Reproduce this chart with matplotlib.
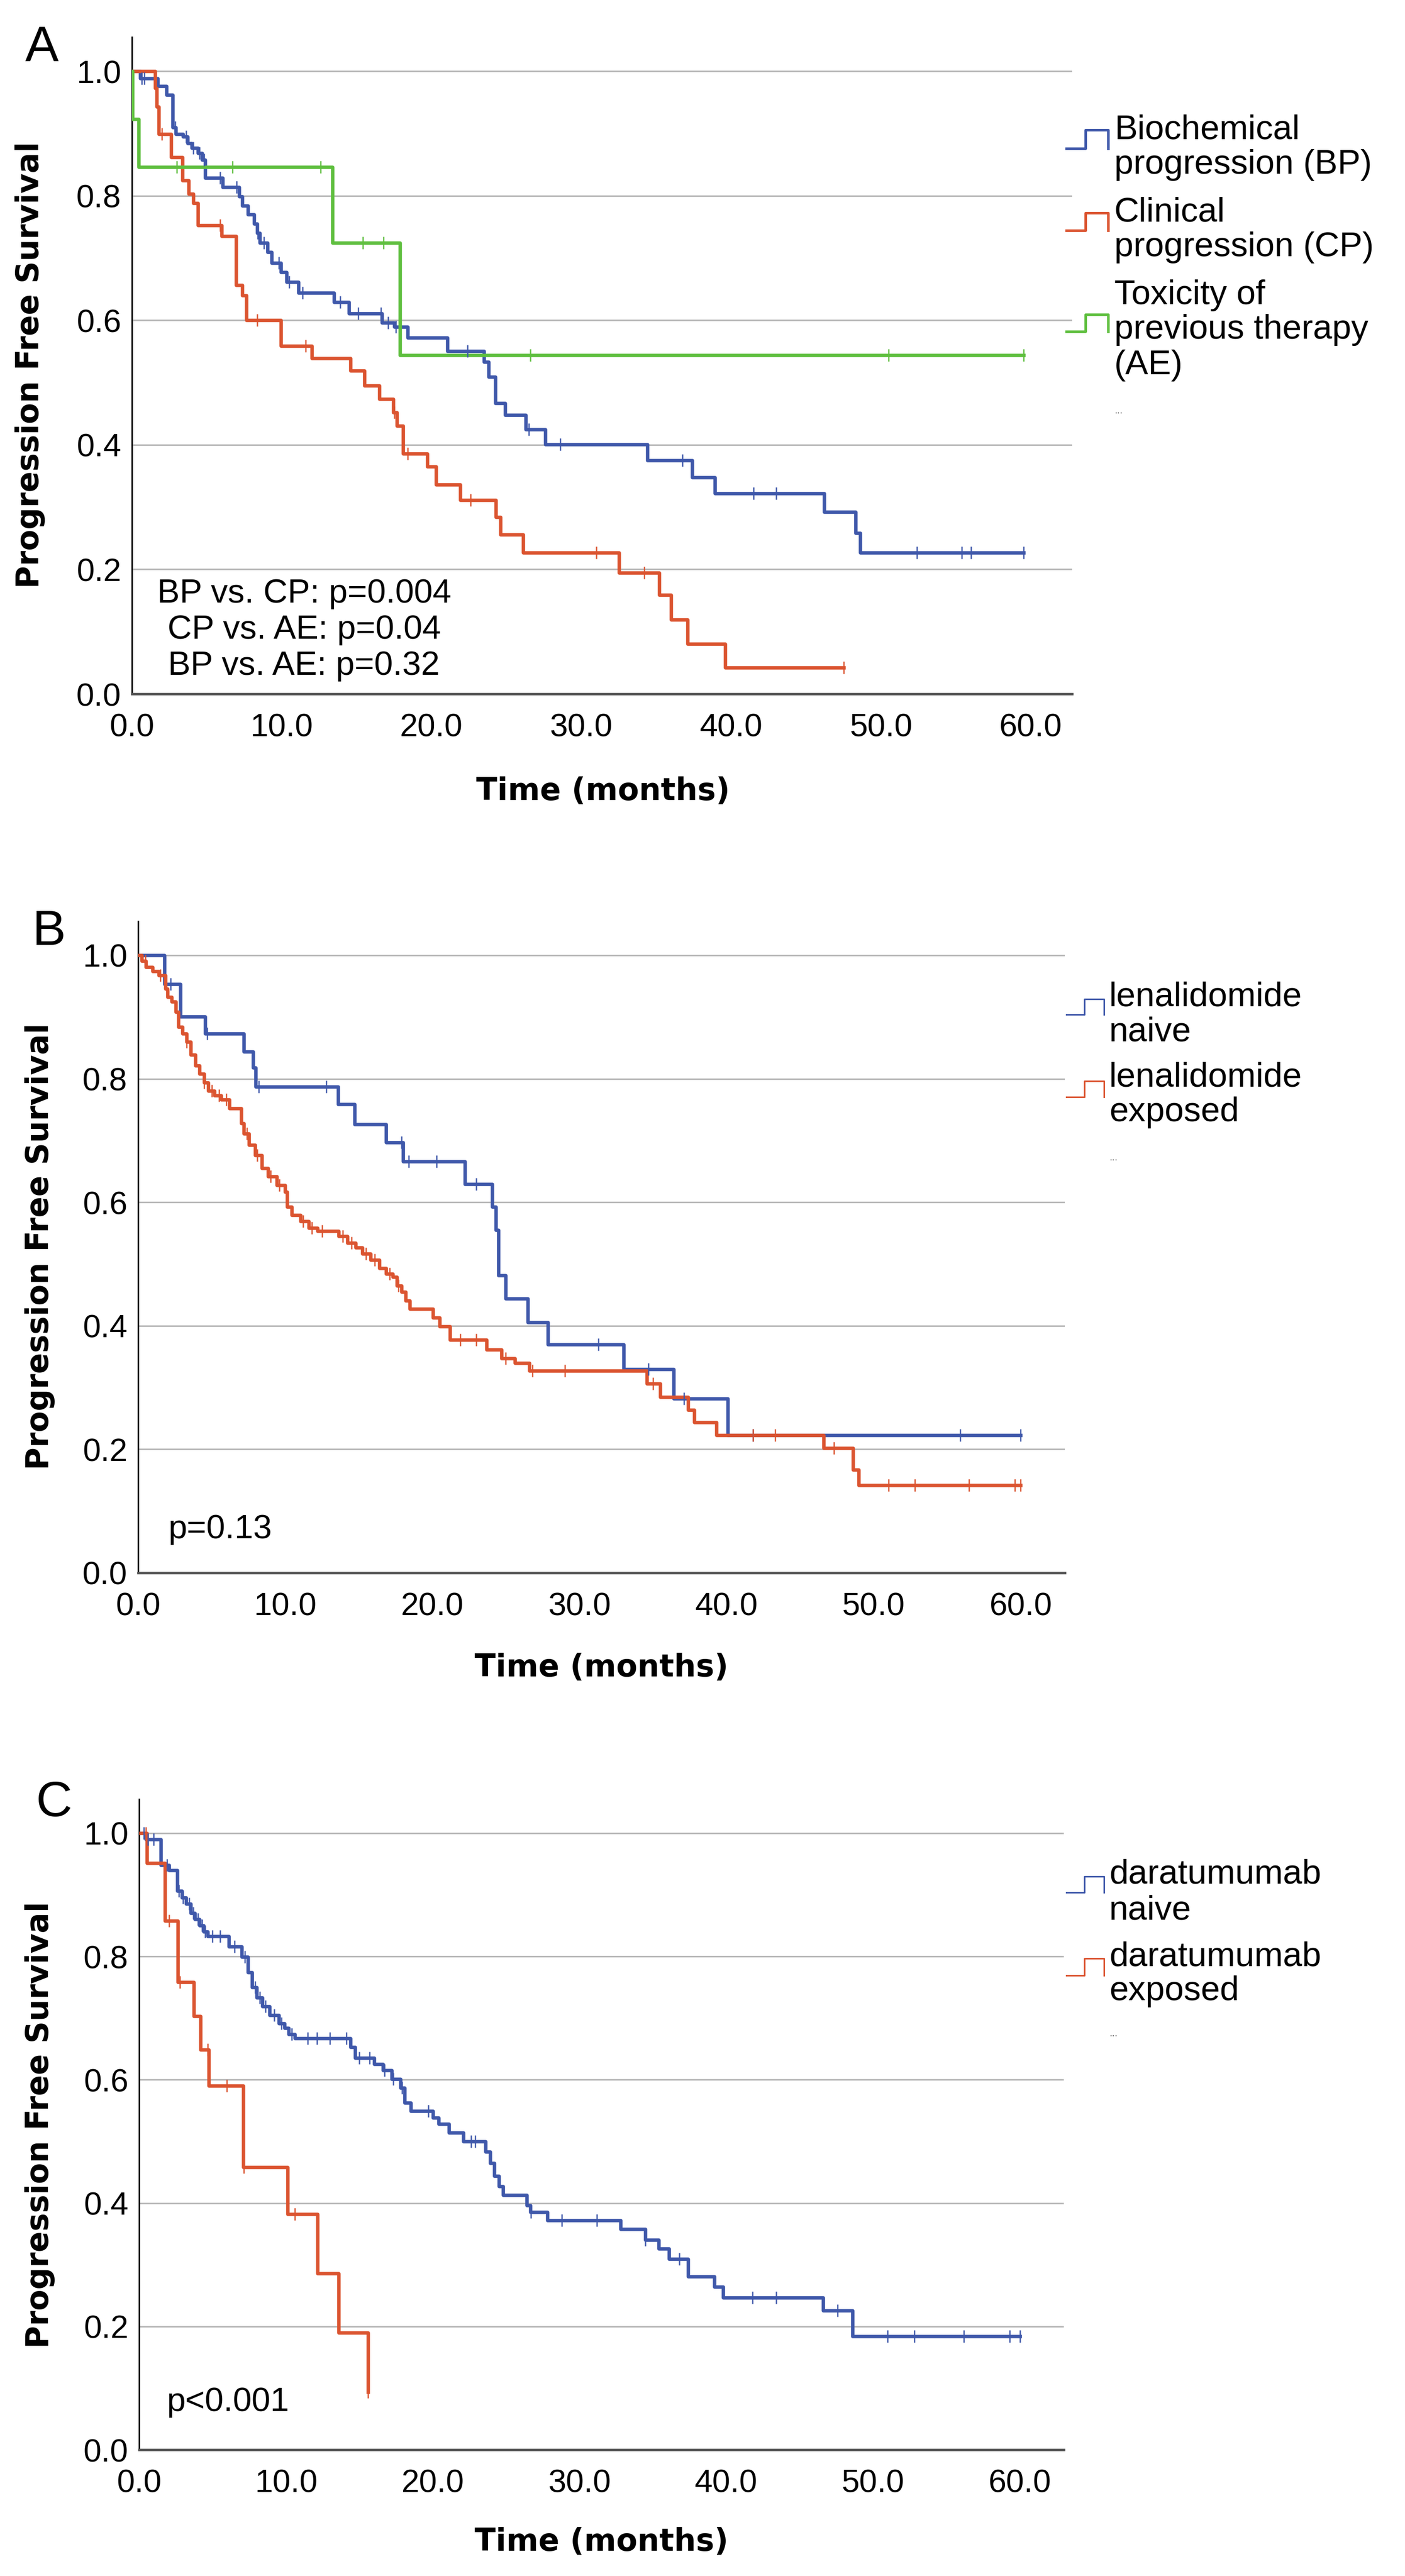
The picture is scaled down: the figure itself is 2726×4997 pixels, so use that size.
import numpy as np
import matplotlib
matplotlib.use('Agg')
import matplotlib.pyplot as plt
from matplotlib.lines import Line2D

plt.rcParams['font.family'] = ['Liberation Sans', 'DejaVu Sans']

W, H = 2726, 4997
DPI = 100

BLUE = '#3f58aa'
RED = '#db5430'
GREEN = '#5fbf3f'
GRID = '#b8b8b8'

# ---- panel A: progression type ----
a_bp_t = [0, 0.54, 1.73, 2.32, 2.72, 2.91, 3.41, 3.70, 4.00, 4.39, 4.69, 4.89,
          6.07, 7.16, 7.36, 7.75, 8.15, 8.35, 8.54, 9.04, 9.33, 9.93, 10.32,
          11.11, 13.48, 14.47, 16.70, 17.50, 18.40, 21.06, 23.50, 23.80, 24.25,
          24.90, 26.30, 27.60, 34.40, 37.40, 38.90, 46.20, 48.30, 48.60]
a_bp_s = [1.0, 0.989, 0.976, 0.962, 0.910, 0.899, 0.895, 0.884, 0.877, 0.869,
          0.858, 0.829, 0.814, 0.799, 0.784, 0.770, 0.755, 0.740, 0.725, 0.710,
          0.692, 0.677, 0.662, 0.644, 0.629, 0.611, 0.596, 0.590, 0.572, 0.551,
          0.533, 0.509, 0.467, 0.448, 0.425, 0.401, 0.375, 0.348, 0.322, 0.292,
          0.258, 0.227]
a_bp_end = 59.5
a_bp_cens = [0.64, 0.84, 2.9, 3.6, 4.1, 4.5, 4.8, 5.9, 7.0, 8.4, 8.8, 9.8,
             10.5, 11.4, 13.9, 15.1, 16.6, 17.1, 17.6, 22.4, 26.5, 28.6, 36.75,
             41.5, 43.0, 52.4, 55.4, 56.0, 59.5]

a_cp_t = [0, 1.55, 1.65, 1.80, 2.62, 3.37, 3.80, 4.10, 4.40, 5.98, 6.96, 7.36,
          7.65, 9.93, 12.00, 14.57, 15.50, 16.50, 17.45, 17.70, 18.10, 19.70,
          20.30, 21.90, 24.30, 24.60, 26.10, 32.50, 35.20, 36.00, 37.10, 39.60]
a_cp_s = [1.0, 0.973, 0.943, 0.899, 0.862, 0.825, 0.803, 0.788, 0.753, 0.735,
          0.657, 0.640, 0.600, 0.559, 0.539, 0.519, 0.495, 0.474, 0.452, 0.431,
          0.386, 0.365, 0.336, 0.311, 0.284, 0.256, 0.227, 0.195, 0.159, 0.119,
          0.080, 0.042]
a_cp_end = 47.5
a_cp_cens = [2.0, 5.9, 8.35, 11.6, 17.5, 18.4, 22.6, 31.0, 34.2, 47.5]

a_ae_t = [0, 0.05, 0.44, 13.38, 17.89]
a_ae_s = [1.0, 0.923, 0.846, 0.725, 0.544]
a_ae_end = 59.5
a_ae_cens = [3.0, 6.7, 12.6, 15.4, 16.8, 26.6, 50.5, 59.5]

a_labels = [['Biochemical', 'progression (BP)'],
            ['Clinical', 'progression (CP)'],
            ['Toxicity of', 'previous therapy', '(AE)']]
a_pvals = ['BP vs. CP: p=0.004', 'CP vs. AE: p=0.04', 'BP vs. AE: p=0.32']

# ---- panel B: lenalidomide ----
b_naive_t = [0, 1.79, 2.86, 4.55, 7.17, 7.80, 8.00, 13.60, 14.70, 16.85, 18.00,
             22.20, 24.06, 24.30, 24.50, 25.00, 26.50, 27.85, 33.00, 36.40, 40.10]
b_naive_s = [1.0, 0.953, 0.901, 0.873, 0.844, 0.818, 0.787, 0.759, 0.726, 0.697,
             0.666, 0.629, 0.593, 0.555, 0.482, 0.444, 0.406, 0.370, 0.330,
             0.282, 0.223]
b_naive_end = 60.0
b_naive_cens = [2.2, 4.7, 8.2, 12.8, 17.9, 18.4, 20.3, 23.0, 31.3, 34.7, 37.1,
                41.8, 55.9, 60.0]

b_exp_t = [0, 0.24, 0.53, 0.97, 1.41, 1.84, 1.99, 2.28, 2.57, 2.72,
           3.01, 3.30, 3.59, 3.88, 4.17, 4.47, 4.76, 5.19, 5.63, 6.21,
           7.00, 7.17, 7.52, 7.96, 8.40, 8.83, 9.42, 10.00, 10.14, 10.44,
           11.02, 11.60, 12.20, 13.64, 14.22, 14.80, 15.24, 15.80, 16.40, 16.85,
           17.30, 17.60, 17.90, 18.20, 18.45, 20.05, 20.50, 21.20, 23.70, 24.70,
           25.60, 26.60, 34.60, 35.50, 37.40, 37.80, 39.30, 46.60, 48.60, 49.00]
b_exp_s = [1.0, 0.991, 0.981, 0.974, 0.967, 0.946, 0.932, 0.925, 0.908, 0.884,
           0.873, 0.860, 0.839, 0.821, 0.808, 0.794, 0.780, 0.773, 0.766, 0.752,
           0.728, 0.711, 0.693, 0.676, 0.655, 0.642, 0.628, 0.617, 0.593, 0.579,
           0.569, 0.558, 0.553, 0.545, 0.534, 0.527, 0.517, 0.507, 0.493, 0.484,
           0.479, 0.465, 0.455, 0.441, 0.427, 0.413, 0.399, 0.377, 0.361, 0.347,
           0.340, 0.327, 0.306, 0.285, 0.264, 0.244, 0.223, 0.202, 0.167, 0.142]
b_exp_end = 60.0
b_exp_cens = [0.5, 1.5, 3.3, 4.5, 5.0, 5.5, 6.0, 7.4, 8.1, 9.0, 9.6, 11.2, 11.8,
              12.5, 13.9, 14.5, 15.5, 16.1, 17.1, 17.7, 21.9, 23.0, 25.0, 26.8,
              29.0, 35.0, 41.8, 43.3, 47.3, 51.0, 52.8, 56.5, 59.6, 60.0]

b_labels = [['lenalidomide', 'naive'], ['lenalidomide', 'exposed']]
b_pval = 'p=0.13'

# ---- panel C: daratumumab ----
c_naive_t = [0, 0.44, 1.46, 2.04, 2.60, 2.90, 3.20, 3.50, 3.80, 4.10,
             4.40, 4.66, 6.10, 7.00, 7.40, 7.70, 8.00, 8.40, 8.90, 9.50,
             9.90, 10.20, 10.60, 14.40, 14.70, 16.00, 16.60, 17.20, 17.80, 18.10,
             18.50, 20.00, 20.40, 21.10, 22.10, 23.60, 23.90, 24.20, 24.50, 24.80,
             26.40, 26.65, 27.80, 32.80, 34.50, 35.40, 36.10, 37.40, 39.20, 39.80,
             46.60, 48.60]
c_naive_s = [1.0, 0.990, 0.948, 0.940, 0.906, 0.895, 0.885, 0.870, 0.860, 0.850,
             0.840, 0.833, 0.816, 0.799, 0.774, 0.750, 0.733, 0.719, 0.705, 0.691,
             0.684, 0.674, 0.667, 0.653, 0.635, 0.625, 0.615, 0.601, 0.587, 0.563,
             0.549, 0.538, 0.528, 0.514, 0.500, 0.483, 0.465, 0.444, 0.427, 0.413,
             0.396, 0.385, 0.372, 0.358, 0.340, 0.326, 0.309, 0.281, 0.264, 0.247,
             0.226, 0.184]
c_naive_end = 60.0
c_naive_cens = [0.3, 0.6, 1.0, 1.9, 2.7, 3.0, 3.4, 3.7, 4.0, 4.3, 4.5, 5.0, 5.5,
                6.5, 7.2, 7.9, 8.2, 8.6, 9.2, 9.7, 10.4, 11.5, 12.1, 13.0, 14.1,
                15.0, 15.7, 16.7, 17.3, 17.9, 19.7, 22.6, 22.9, 26.7, 28.8, 31.2,
                34.5, 36.8, 41.8, 43.4, 47.6, 51.0, 52.8, 56.2, 59.3, 60.0]

c_exp_t = [0, 0.52, 1.75, 2.62, 3.73, 4.17, 4.75, 7.08, 10.10, 12.15, 13.60, 15.60]
c_exp_s = [1.0, 0.951, 0.858, 0.758, 0.703, 0.649, 0.590, 0.458, 0.382, 0.286,
           0.190, 0.094]
c_exp_end = 15.6
c_exp_cens = [0.44, 2.04, 2.77, 4.66, 5.97, 7.14, 10.6, 15.6]

c_labels = [['daratumumab', 'naive'], ['daratumumab', 'exposed']]
c_pval = 'p<0.001'

x_ticks = [0, 10, 20, 30, 40, 50, 60]
y_ticks = [0.0, 0.2, 0.4, 0.6, 0.8, 1.0]


def fx(px):
    return px / W


def fy(py):
    return 1 - py / H


def km(ax, t, s, end, cens, color):
    t = np.asarray(t)
    s = np.asarray(s)
    ax.plot(np.append(t, end), np.append(s, s[-1]), drawstyle='steps-post',
            color=color, lw=4.8, zorder=3)
    c = np.asarray(cens)
    cy = s[np.searchsorted(t, c, side='right') - 1]
    ax.plot(c, cy, ls='none', marker='|', ms=17, mew=1.8, color=color, zorder=4)


def make_axes(fig, left, right, top, bottom, xmax):
    ax = fig.add_axes([fx(left), fy(bottom), (right - left) / W,
                       (bottom - top) / H])
    ax.set_xlim(0, xmax)
    ax.set_ylim(0, 1.055)
    ax.set_xticks(x_ticks)
    ax.set_xticklabels([f'{v:.1f}' for v in x_ticks])
    ax.set_yticks(y_ticks)
    ax.set_yticklabels([f'{v:.1f}' for v in y_ticks])
    for y in y_ticks[1:]:
        ax.axhline(y, color=GRID, lw=2.2, zorder=1)
    ax.spines['top'].set_visible(False)
    ax.spines['right'].set_visible(False)
    ax.spines['left'].set_color('black')
    ax.spines['left'].set_linewidth(2.2)
    ax.spines['bottom'].set_color('#555555')
    ax.spines['bottom'].set_linewidth(3.4)
    ax.tick_params(length=0, labelsize=45)
    ax.tick_params(axis='x', pad=26)
    ax.tick_params(axis='y', pad=15)
    return ax


def labels(fig, letter, letter_xy, ylab_xy, xlab_xy):
    fig.text(fx(letter_xy[0]), fy(letter_xy[1]), letter, fontsize=70,
             ha='left', va='baseline')
    fig.text(fx(ylab_xy[0]), fy(ylab_xy[1]), 'Progression Free Survival',
             rotation=90, ha='center', va='center', fontsize=43,
             fontweight='bold', family='DejaVu Sans')
    fig.text(fx(xlab_xy[0]), fy(xlab_xy[1]), 'Time (months)', ha='center',
             va='center', fontsize=43, fontweight='bold', family='DejaVu Sans')


def legend(fig, xs, text_x, entries, dots_y, lw):
    # entries: (color, y_low, y_high, lines, baselines)
    for color, ylo, yhi, lines, bases in entries:
        gx = [xs[0], xs[1], xs[1], xs[2], xs[2]]
        gy = [ylo, ylo, yhi, yhi, ylo]
        fig.add_artist(Line2D([fx(v) for v in gx], [fy(v) for v in gy],
                              color=color, lw=lw, transform=fig.transFigure))
        for line, b in zip(lines, bases):
            fig.text(fx(text_x), fy(b), line, fontsize=48, ha='left',
                     va='baseline')
    fig.text(fx(text_x), fy(dots_y), '...', fontsize=14, color='#555555',
             ha='left', va='baseline')


fig = plt.figure(figsize=(W / DPI, H / DPI), dpi=DPI)

# panel A
ax = make_axes(fig, 256, 2080, 72, 1346, 62.75)
km(ax, a_bp_t, a_bp_s, a_bp_end, a_bp_cens, BLUE)
km(ax, a_cp_t, a_cp_s, a_cp_end, a_cp_cens, RED)
km(ax, a_ae_t, a_ae_s, a_ae_end, a_ae_cens, GREEN)
for txt, b in zip(a_pvals, [1169, 1239, 1309]):
    fig.text(fx(590), fy(b), txt, fontsize=47, ha='center', va='baseline')
labels(fig, 'A', (49, 118), (59, 708), (1170, 1536))
legend(fig, (2069, 2106, 2150), 2162,
       [(BLUE, 288, 252, a_labels[0], [270, 337]),
        (RED, 447, 413, a_labels[1], [429, 497]),
        (GREEN, 643, 610, a_labels[2], [590, 657, 726])],
       802, 3.6)

# panel B
ax = make_axes(fig, 268, 2066, 1787, 3051, 63.0)
km(ax, b_naive_t, b_naive_s, b_naive_end, b_naive_cens, BLUE)
km(ax, b_exp_t, b_exp_s, b_exp_end, b_exp_cens, RED)
fig.text(fx(327), fy(2984), b_pval, fontsize=47, ha='left', va='baseline')
labels(fig, 'B', (63, 1833), (78, 2418), (1167, 3235))
legend(fig, (2069, 2104, 2142), 2152,
       [(BLUE, 1968, 1938, b_labels[0], [1952, 2019]),
        (RED, 2128, 2097, b_labels[1], [2108, 2175])],
       2251, 2.2)

# panel C
ax = make_axes(fig, 270, 2064, 3490, 4752, 63.0)
km(ax, c_naive_t, c_naive_s, c_naive_end, c_naive_cens, BLUE)
km(ax, c_exp_t, c_exp_s, c_exp_end, c_exp_cens, RED)
fig.text(fx(324), fy(4677), c_pval, fontsize=47, ha='left', va='baseline')
labels(fig, 'C', (70, 3523), (78, 4122), (1167, 4932))
legend(fig, (2069, 2104, 2142), 2152,
       [(BLUE, 3671, 3640, c_labels[0], [3653, 3724]),
        (RED, 3832, 3799, c_labels[1], [3813, 3880])],
       3950, 2.2)

fig.savefig('out.png', dpi=DPI)
